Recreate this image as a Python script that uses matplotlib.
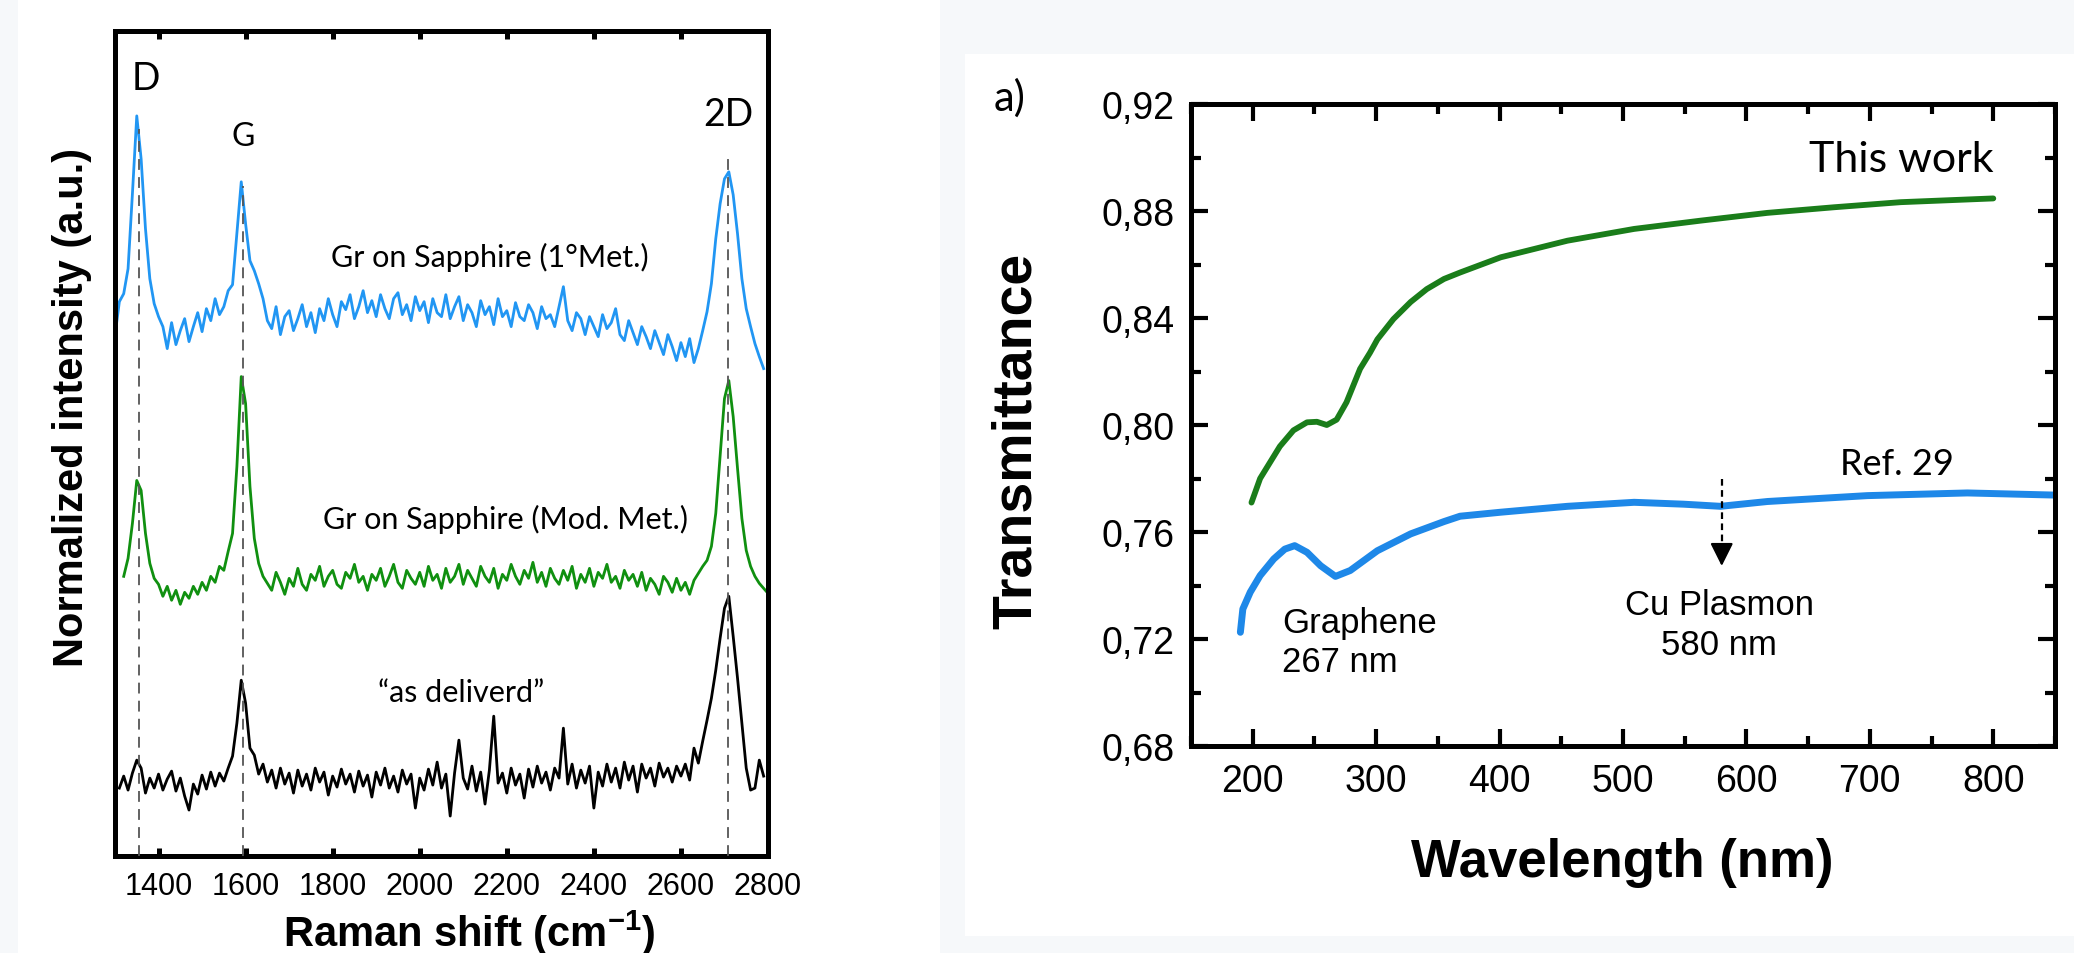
import numpy as np
import matplotlib
matplotlib.use("Agg")
import matplotlib.pyplot as plt
from matplotlib.ticker import MultipleLocator, FuncFormatter
from matplotlib.patches import Rectangle

plt.rcParams["font.family"] = "Liberation Sans"
plt.rcParams["mathtext.fontset"] = "custom"
plt.rcParams["mathtext.rm"] = "Liberation Sans"
plt.rcParams["mathtext.default"] = "regular"

# ---------------- Raman spectra (offset, normalized) ----------------
raman_shift = np.arange(1300, 2801, 10)

# Gr on Sapphire (1°Met.), 1300-2790
raman_1met = [
    5.21, 5.55, 5.63, 5.88, 6.63, 7.41, 6.98, 6.28, 5.78, 5.53,
    5.40, 5.30, 5.08, 5.34, 5.12, 5.26, 5.38, 5.15, 5.30, 5.44,
    5.25, 5.48, 5.36, 5.58, 5.42, 5.50, 5.66, 5.72, 6.23, 6.75,
    6.33, 5.96, 5.86, 5.73, 5.58, 5.36, 5.28, 5.50, 5.22, 5.40,
    5.46, 5.26, 5.38, 5.52, 5.30, 5.44, 5.24, 5.48, 5.36, 5.58,
    5.42, 5.30, 5.55, 5.47, 5.62, 5.38, 5.50, 5.66, 5.44, 5.56,
    5.40, 5.62, 5.48, 5.38, 5.58, 5.64, 5.42, 5.52, 5.36, 5.60,
    5.46, 5.55, 5.34, 5.58, 5.44, 5.40, 5.62, 5.38, 5.50, 5.60,
    5.36, 5.52, 5.44, 5.30, 5.56, 5.42, 5.50, 5.32, 5.58, 5.40,
    5.46, 5.30, 5.54, 5.40, 5.36, 5.52, 5.44, 5.28, 5.50, 5.38,
    5.42, 5.30, 5.50, 5.70, 5.36, 5.26, 5.44, 5.38, 5.22, 5.40,
    5.30, 5.20, 5.42, 5.28, 5.34, 5.48, 5.22, 5.16, 5.36, 5.24,
    5.12, 5.30, 5.20, 5.08, 5.26, 5.14, 5.02, 5.22, 5.10, 4.96,
    5.14, 5.00, 5.18, 4.94, 5.08, 5.26, 5.45, 5.73, 6.18, 6.53,
    6.78, 6.85, 6.62, 6.23, 5.78, 5.48, 5.30, 5.13, 5.00, 4.88,
    np.nan,
]

# Gr on Sapphire (Mod. Met.), 1320-2800
raman_modmet = [
    np.nan, np.nan,
    2.80, 2.98, 3.33, 3.76, 3.66, 3.23, 2.93, 2.78,
    2.72, 2.60, 2.70, 2.56, 2.66, 2.52, 2.64, 2.58, 2.70, 2.62,
    2.74, 2.66, 2.80, 2.74, 2.90, 2.86, 3.05, 3.23, 3.90, 4.80,
    4.53, 3.70, 3.18, 2.93, 2.80, 2.73, 2.66, 2.84, 2.74, 2.62,
    2.78, 2.70, 2.88, 2.72, 2.66, 2.82, 2.76, 2.90, 2.70, 2.80,
    2.86, 2.72, 2.68, 2.84, 2.78, 2.92, 2.74, 2.80, 2.66, 2.82,
    2.76, 2.88, 2.70, 2.80, 2.92, 2.74, 2.68, 2.86, 2.78, 2.72,
    2.84, 2.70, 2.90, 2.76, 2.82, 2.68, 2.88, 2.74, 2.80, 2.92,
    2.72, 2.86, 2.78, 2.70, 2.90, 2.80, 2.74, 2.88, 2.68, 2.82,
    2.76, 2.92, 2.80, 2.72, 2.86, 2.78, 2.94, 2.74, 2.84, 2.70,
    2.88, 2.78, 2.72, 2.86, 2.76, 2.90, 2.68, 2.82, 2.74, 2.88,
    2.70, 2.84, 2.78, 2.92, 2.74, 2.80, 2.68, 2.86, 2.76, 2.82,
    2.70, 2.84, 2.66, 2.78, 2.72, 2.62, 2.80, 2.74, 2.64, 2.78,
    2.66, 2.74, 2.62, 2.76, 2.83, 2.90, 2.96, 3.10, 3.43, 4.00,
    4.58, 4.76, 4.40, 3.88, 3.38, 3.06, 2.90, 2.80, 2.73, 2.68,
    2.63,
]

# "as deliverd", 1310-2790
raman_delivered = [
    np.nan,
    0.68, 0.80, 0.66, 0.83, 0.96, 0.88, 0.63, 0.78, 0.68,
    0.82, 0.66, 0.77, 0.85, 0.65, 0.78, 0.60, 0.46, 0.72, 0.62,
    0.81, 0.67, 0.84, 0.70, 0.83, 0.75, 0.88, 1.00, 1.33, 1.76,
    1.53, 1.08, 1.01, 0.82, 0.92, 0.74, 0.86, 0.68, 0.88, 0.72,
    0.83, 0.63, 0.86, 0.70, 0.82, 0.66, 0.88, 0.74, 0.84, 0.61,
    0.80, 0.69, 0.87, 0.72, 0.82, 0.64, 0.85, 0.70, 0.81, 0.59,
    0.84, 0.71, 0.88, 0.68, 0.80, 0.64, 0.86, 0.72, 0.82, 0.48,
    0.78, 0.66, 0.87, 0.71, 0.94, 0.68, 0.82, 0.40, 0.83, 1.16,
    0.78, 0.67, 0.90, 0.65, 0.84, 0.52, 0.86, 1.40, 0.73, 0.83,
    0.63, 0.88, 0.71, 0.82, 0.58, 0.87, 0.69, 0.90, 0.73, 0.84,
    0.66, 0.88, 0.78, 1.28, 0.72, 0.92, 0.68, 0.86, 0.73, 0.90,
    0.48, 0.84, 0.70, 0.92, 0.74, 0.88, 0.68, 0.94, 0.76, 0.90,
    0.64, 0.92, 0.78, 0.88, 0.70, 0.93, 0.79, 0.88, 0.74, 0.90,
    0.80, 0.92, 0.76, 1.08, 0.93, 1.15, 1.36, 1.58, 1.86, 2.18,
    2.48, 2.60, 2.20, 1.78, 1.33, 0.88, 0.66, 0.68, 0.96, 0.80,
    np.nan,
]

peak_names = ["D", "G", "2D"]
peak_pos = [1355, 1594, 2707]
peak_top = [7.28, 6.71, 6.98]

# ---------------- UV-vis transmittance ----------------
this_work_wl = [199, 206, 214, 222, 233, 244, 252, 260, 268, 276, 287, 295,
                301, 314, 328, 341, 355, 368, 401, 455, 509, 563, 617, 671,
                725, 800]
this_work_T = [0.771, 0.780, 0.786, 0.792, 0.798, 0.801, 0.8012, 0.800,
               0.802, 0.8085, 0.821, 0.827, 0.832, 0.8396, 0.846, 0.8508,
               0.8546, 0.857, 0.8627, 0.8689, 0.8733, 0.8764, 0.8793,
               0.8814, 0.8833, 0.8847]

ref29_wl = [190, 192, 198, 206, 217, 226, 234, 244, 255, 267, 279, 301,
            328, 355, 368, 401, 455, 509, 549, 579, 617, 698, 779, 850]
ref29_T = [0.7225, 0.7312, 0.7375, 0.7437, 0.7499, 0.7536, 0.7549, 0.7524,
           0.7474, 0.7434, 0.7456, 0.7530, 0.7593, 0.7639, 0.7659, 0.7674,
           0.7696, 0.7711, 0.7704, 0.7696, 0.7714, 0.7736, 0.7746, 0.7738]

cu_plasmon_wl = 580

# ---------------- figure ----------------
W, H = 2074, 954
fig = plt.figure(figsize=(W / 100, H / 100), dpi=100, facecolor="#f6f8fa")
fig.patches.append(Rectangle((18 / W, 0), (940 - 18) / W, 1, transform=fig.transFigure,
                             facecolor="white", edgecolor="none", zorder=-10))
fig.patches.append(Rectangle((965 / W, 1 - 937 / H), (W - 965) / W, (937 - 55) / H,
                             transform=fig.transFigure, facecolor="white",
                             edgecolor="none", zorder=-10))

# left panel: Raman
ax1 = fig.add_axes([115 / W, 1 - 857 / H, 653 / W, 825 / H])
ax1.set_facecolor("none")
ax1.plot(raman_shift, raman_1met, color="#2196f3", lw=2)
ax1.plot(raman_shift, raman_modmet, color="#109010", lw=2)
ax1.plot(raman_shift, raman_delivered, color="black", lw=2)
for name, xp, top in zip(peak_names, peak_pos, peak_top):
    ax1.plot([xp, xp], [0, top], color="#555555", lw=1.3, dashes=(6, 4), zorder=3)

ax1.text(1371, 7.79, "D", ha="center", va="center", fontsize=27, family="Lato")
ax1.text(1594, 7.21, "G", ha="center", va="center", fontsize=23, family="Lato")
ax1.text(2709, 7.43, "2D", ha="center", va="center", fontsize=27, family="Lato")
ax1.text(2160, 5.91, "Gr on Sapphire (1°Met.)", ha="center", va="baseline",
         fontsize=22, family="Lato")
ax1.text(2197, 3.28, "Gr on Sapphire (Mod. Met.)", ha="center", va="baseline",
         fontsize=22, family="Lato")
ax1.text(2095, 1.55, "\u201cas deliverd\u201d", ha="center", va="baseline",
         fontsize=22, family="Lato")

ax1.set_xlim(1300, 2800)
ax1.set_ylim(0, 8.26)
ax1.set_xticks(range(1400, 2801, 200))
ax1.set_yticks([])
ax1.tick_params(axis="x", direction="in", top=True, length=6, width=3.6,
                labelsize=22, pad=11)
for sp in ax1.spines.values():
    sp.set_linewidth(3.6)

fig.text(469 / W, 1 - 947 / H, "Raman shift (cm$^{-1}$)", ha="center", va="baseline",
         fontsize=30, fontweight="bold")
fig.text(72 / W, 1 - 407 / H, "Normalized intensity (a.u.)", rotation=90,
         ha="center", va="center", fontsize=30, fontweight="bold")

# right panel: transmittance
ax2 = fig.add_axes([1191 / W, 1 - 747 / H, 864 / W, 642 / H])
ax2.set_facecolor("none")
ax2.plot(this_work_wl, this_work_T, color="#1a7d1a", lw=4.2, solid_capstyle="round")
ax2.plot(ref29_wl, ref29_T, color="#1e88e8", lw=5, solid_capstyle="round")

ax2.plot([cu_plasmon_wl, cu_plasmon_wl], [0.780, 0.752], color="black", lw=1.6,
         dashes=(3, 2))
ax2.annotate("", xy=(cu_plasmon_wl, 0.7473), xytext=(cu_plasmon_wl, 0.7535),
             arrowprops=dict(arrowstyle="-|>", color="black", lw=1.6,
                             mutation_scale=35, shrinkA=0, shrinkB=0))

# multi-line labels: y is the baseline of the last line
ax2.text(800, 0.895, "This work", ha="right", va="baseline", fontsize=31, family="Lato")
ax2.text(722, 0.7817, "Ref. 29", ha="center", va="baseline", fontsize=26, family="Lato")
ax2.text(224, 0.7080, "Graphene\n267 nm", ha="left", va="baseline", fontsize=25,
         linespacing=1.25)
ax2.text(578, 0.7144, "Cu Plasmon\n580 nm", ha="center", va="baseline", fontsize=25,
         linespacing=1.25, multialignment="center")

ax2.set_xlim(150, 850)
ax2.set_ylim(0.68, 0.92)
ax2.xaxis.set_major_locator(MultipleLocator(100))
ax2.xaxis.set_minor_locator(MultipleLocator(50))
ax2.yaxis.set_major_locator(MultipleLocator(0.04))
ax2.yaxis.set_minor_locator(MultipleLocator(0.02))
ax2.yaxis.set_major_formatter(FuncFormatter(lambda v, p: f"{v:.2f}".replace(".", ",")))
ax2.set_xticks(range(200, 801, 100))
ax2.tick_params(which="both", direction="in", top=True, right=True, width=3)
ax2.tick_params(which="major", length=12, labelsize=27, pad=12)
ax2.tick_params(which="minor", length=7)
for sp in ax2.spines.values():
    sp.set_linewidth(3.6)

fig.text(1622 / W, 1 - 877 / H, "Wavelength (nm)", ha="center", va="baseline",
         fontsize=38, fontweight="bold")
fig.text(1017 / W, 1 - 441 / H, "Transmittance", rotation=90, ha="center", va="center",
         fontsize=40, fontweight="bold")
fig.text(1010 / W, 1 - 98 / H, "a)", ha="center", va="center", fontsize=30, family="Lato")

fig.savefig("out.png", dpi=100, facecolor=fig.get_facecolor())
